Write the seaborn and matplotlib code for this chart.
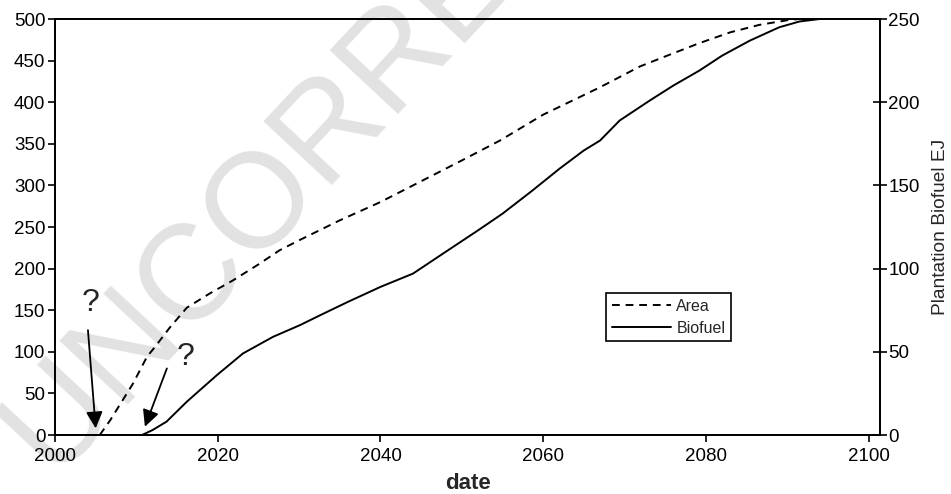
import numpy as np
import pandas as pd
import matplotlib
matplotlib.use("Agg")
import matplotlib.pyplot as plt
import seaborn as sns

# ---- data ----
area_years = [2005.5, 2006.8, 2009.6, 2011.3, 2012.3, 2014.1, 2016.2, 2019.0, 2021.9, 2025.0,
              2027.6, 2030.0, 2035.0, 2040.0, 2045.0, 2050.0, 2054.7, 2060.0, 2067.0, 2071.9,
              2075.0, 2079.2, 2083.0, 2086.6, 2090.3, 2091.5]
area_values = [0, 18, 62, 94, 106, 129, 153, 170, 186, 205,
               222, 234, 258, 280, 305, 330, 354, 385, 418, 443,
               455, 471, 484, 493, 499, 500]

bio_years = [2010.7, 2012.0, 2013.7, 2016.2, 2019.9, 2023.1, 2026.8, 2030.1, 2032.6, 2036.0,
             2040.0, 2044.0, 2048.3, 2052.0, 2055.0, 2058.7, 2062.0, 2065.0, 2067.0, 2069.4,
             2073.1, 2076.0, 2079.2, 2082.0, 2085.4, 2089.0, 2091.5, 2094.0]
bio_values = [0, 3, 8, 20, 36, 49, 59, 66, 72, 80,
              89, 97, 111, 123, 133, 147, 160, 171, 177, 189,
              201, 210, 219, 228, 237, 245, 248.5, 250]

x_ticks = [2000, 2020, 2040, 2060, 2080, 2100]
left_ticks = [0, 50, 100, 150, 200, 250, 300, 350, 400, 450, 500]
right_ticks = [0, 50, 100, 150, 200, 250]

sns.set_theme(style="white")
plt.rcParams['font.family'] = ['Liberation Sans', 'DejaVu Sans']

fig = plt.figure(figsize=(9.51, 4.94), dpi=100)

# watermark (behind everything)
fig.text(0.055, 0.037, "UNCORRECTED", fontsize=97, color="#e2e2e2", rotation=47,
         rotation_mode="anchor", ha="left", va="baseline", zorder=-10)

ax = fig.add_axes([55/951, 1-435/494, (880-55)/951, (435-19)/494])
ax2 = ax.twinx()
ax.patch.set_alpha(0)
ax2.patch.set_alpha(0)

df_area = pd.DataFrame({"date": area_years, "value": area_values})
df_bio = pd.DataFrame({"date": bio_years, "value": bio_values})

sns.lineplot(data=df_area, x="date", y="value", ax=ax, color="black", lw=1.4,
             linestyle=(0, (4, 3)), label="Area", legend=False)
sns.lineplot(data=df_bio, x="date", y="value", ax=ax2, color="black", lw=1.4,
             label="Biofuel", legend=False)

ax.set_xlim(2000, 2101.4)
ax.set_ylim(0, 500)
ax2.set_ylim(0, 250)
ax.set_xticks(x_ticks)
ax.set_yticks(left_ticks)
ax2.set_yticks(right_ticks)

for a in (ax, ax2):
    for s in a.spines.values():
        s.set_color("black")
        s.set_linewidth(1.3)

ax.tick_params(axis="y", direction="out", length=5, width=1.2, labelsize=13.5,
               colors="black", left=True, pad=2)
ax.tick_params(axis="x", direction="out", length=5, width=1.2, labelsize=13.5,
               colors="black", bottom=True, pad=4)
ax2.tick_params(axis="y", direction="inout", length=10, width=1.2, labelsize=13.5,
                colors="black", right=True, pad=1)

ax.set_xlabel("date", fontsize=16, fontweight="bold", labelpad=6)
ax.set_ylabel("")
ax2.set_ylabel("Plantation Biofuel EJ", fontsize=13.8, labelpad=9)

# legend
h1, l1 = ax.get_legend_handles_labels()
h2, l2 = ax2.get_legend_handles_labels()
leg = ax2.legend(h1 + h2, l1 + l2, loc="upper left",
                 bbox_to_anchor=((606-55)/825, (435-293)/416),
                 borderaxespad=0,
                 frameon=True, fancybox=False, edgecolor="black", fontsize=11.5,
                 handlelength=3.7, borderpad=0.35, labelspacing=0.45, handletextpad=0.35)
leg.get_frame().set_linewidth(1.2)
leg.get_frame().set_facecolor("white")
leg.get_frame().set_alpha(1)

# question-mark annotations
arrow = dict(arrowstyle="-|>", color="black", lw=1.3, mutation_scale=25, shrinkA=0, shrinkB=0)
ax.annotate("", xy=(2005.0, 8), xytext=(2004.05, 126), arrowprops=arrow)
ax.annotate("", xy=(2011.05, 10), xytext=(2013.75, 80), arrowprops=arrow)
ax.text(2004.4, 159, "?", fontsize=23, ha="center", va="center")
ax.text(2016.0, 94, "?", fontsize=23, ha="center", va="center")

fig.savefig("out.png", dpi=100)
